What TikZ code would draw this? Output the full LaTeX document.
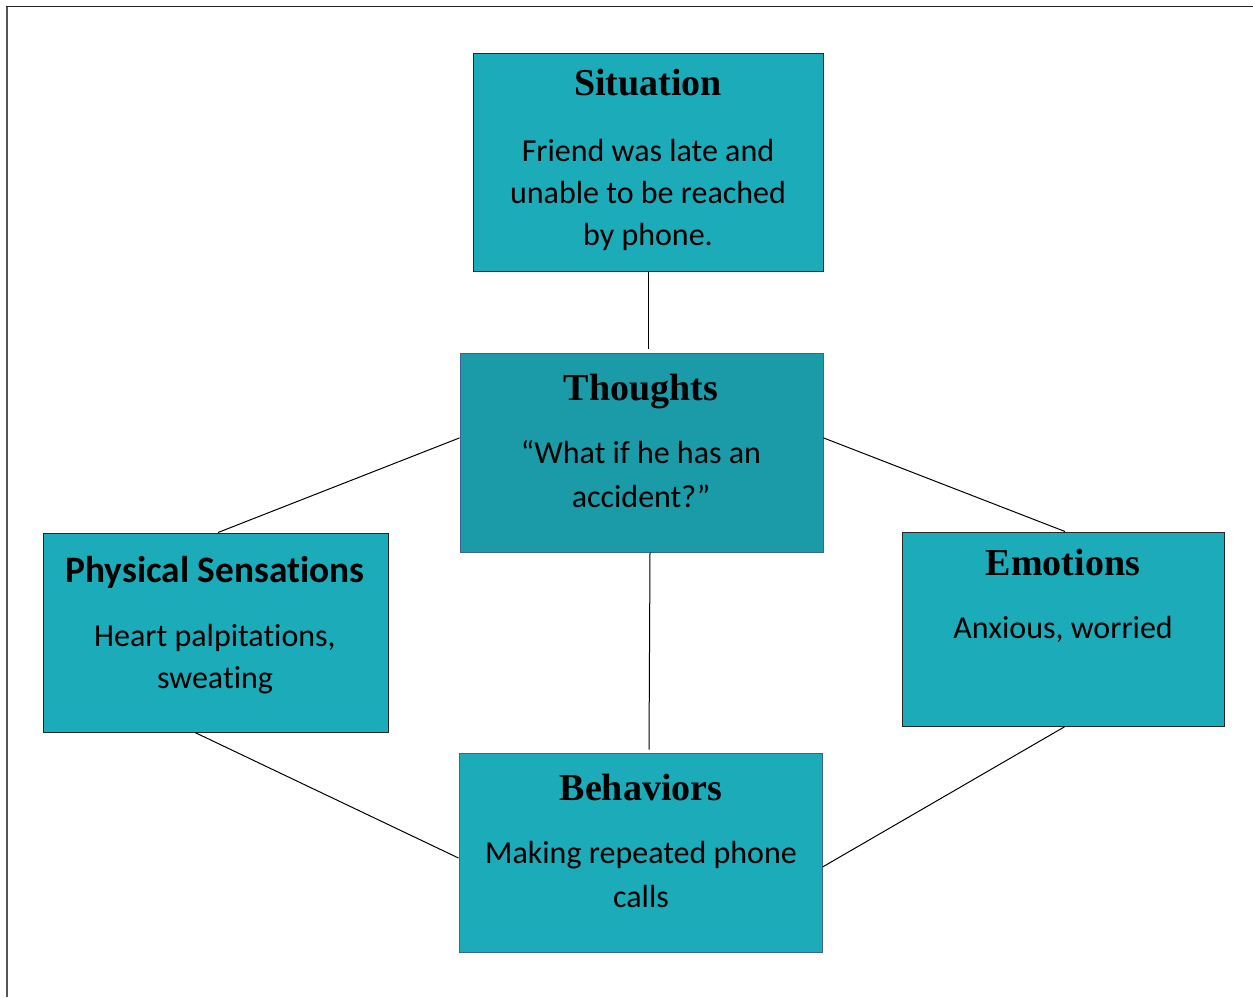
\documentclass[tikz,border=0pt]{standalone}
\usepackage{fontspec}
\usetikzlibrary{calc}
\newfontfamily\titlefont{Liberation Serif}
\newfontfamily\bodyfont[Ligatures=NoCommon]{Carlito}
\definecolor{tealfill}{RGB}{28,171,184}
\definecolor{tealdark}{RGB}{26,155,167}
\definecolor{edgedark}{RGB}{40,40,40}
\definecolor{edgeblue}{RGB}{62,96,155}
\definecolor{framegray}{RGB}{85,85,85}
\begin{document}
\begin{tikzpicture}[x=0.75pt,y=-0.75pt,
  box/.style={rectangle,draw=edgedark,fill=tealfill,line width=0.75pt,inner sep=0pt},
  heading/.style={anchor=base,inner sep=0pt,font=\titlefont\bfseries\fontsize{28.5}{34}\selectfont},
  sansheading/.style={anchor=base,inner sep=0pt,font=\bodyfont\bfseries\fontsize{28}{34}\selectfont},
  body/.style={anchor=base,inner sep=0pt,align=center,font=\bodyfont\fontsize{24}{31.5}\selectfont},
  link/.style={draw=black,line width=0.75pt}]
\useasboundingbox (0,0) rectangle (1253,997);
% page frame
\draw[framegray,line width=1.8pt] (7,997) -- (7,6.5);
\draw[black!85,line width=1.2pt] (6.2,6.5) -- (1253,6.5);

% boxes
\node[box,minimum width=262.5pt,minimum height=163.5pt] (sit) at (648,162) {};
\node[box,fill=tealdark,draw=edgeblue,minimum width=272.25pt,minimum height=149.25pt] (tho) at (641.5,452.5) {};
\node[box,minimum width=258.75pt,minimum height=149.25pt] (phy) at (215.5,632.5) {};
\node[box,minimum width=241.5pt,minimum height=145.5pt] (emo) at (1063,629) {};
\node[box,draw=edgeblue,minimum width=272.25pt,minimum height=149.25pt] (beh) at (640.5,852.5) {};

% connectors
\draw[link] ($(sit.south)$) -- ($(sit.south |- tho.north)+(0,-4)$);
\draw[link] ($(tho.north west)!0.427!(tho.south west)$) -- ($(phy.north)+(2.5,0)$);
\draw[link] ($(tho.north east)!0.427!(tho.south east)$) -- ($(emo.north)+(2,0)$);
\draw[link] ($(tho.south)+(8.5,0)$) -- ($(beh.north)+(8.5,-3)$);
\draw[link] ($(phy.south)+(-20.5,0)$) -- ($(beh.west)+(0,5.5)$);
\draw[link] ($(emo.south)+(2,0)$) -- ($(beh.east)+(0,14.5)$);

% texts (multi-line bodies are placed by the baseline of their last line)
\node[heading] (sit-t) at (648,95) {Situation};
\node[body] (sit-b) at (648,245) {Friend was late and\\unable to be reached\\by phone.};
\node[heading] (tho-t) at (641,400) {Thoughts};
\node[body] (tho-b) at (641,507) {“What if he has an\\[1.5pt]accident?”};
\node[sansheading] (phy-t) at (215,582) {Physical Sensations};
\node[body] (phy-b) at (215,688) {Heart palpitations,\\sweating};
\node[heading] (emo-t) at (1063,575) {Emotions};
\node[body] (emo-b) at (1063,638) {Anxious, worried};
\node[heading] (beh-t) at (641,800) {Behaviors};
\node[body] (beh-b) at (641,907) {Making repeated phone\\[1pt]calls};
\end{tikzpicture}
\end{document}
